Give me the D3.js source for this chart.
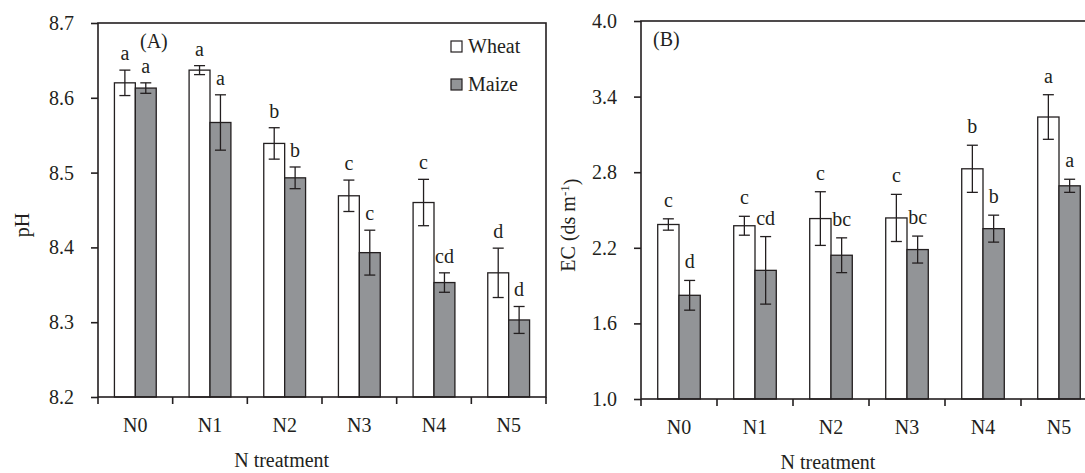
<!DOCTYPE html>
<html>
<head>
<meta charset="utf-8">
<script src="https://cdn.jsdelivr.net/npm/d3@7"></script>
<style>
  body { margin: 0; background: #fff; }
  svg text { font-family: "Liberation Serif", "DejaVu Serif", serif; fill: #231f20; }
</style>
</head>
<body>
<div id="content"></div>
<script>
'use strict';

var categories = ['N0', 'N1', 'N2', 'N3', 'N4', 'N5'];
var seriesNames = ['Wheat', 'Maize'];

var phWheat = [8.620, 8.637, 8.539, 8.469, 8.460, 8.366];
var phWheatErr = [0.017, 0.006, 0.021, 0.021, 0.031, 0.033];
var phMaize = [8.613, 8.567, 8.493, 8.393, 8.353, 8.303];
var phMaizeErr = [0.007, 0.037, 0.0145, 0.030, 0.013, 0.018];
var phWheatLetters = ['a', 'a', 'b', 'c', 'c', 'd'];
var phMaizeLetters = ['a', 'a', 'b', 'c', 'cd', 'd'];
var phTicks = [8.2, 8.3, 8.4, 8.5, 8.6, 8.7];

var ecWheat = [2.385, 2.375, 2.432, 2.437, 2.827, 3.238];
var ecWheatErr = [0.045, 0.075, 0.213, 0.187, 0.187, 0.177];
var ecMaize = [1.823, 2.021, 2.141, 2.186, 2.352, 2.692];
var ecMaizeErr = [0.118, 0.268, 0.138, 0.107, 0.107, 0.052];
var ecWheatLetters = ['c', 'c', 'c', 'c', 'b', 'a'];
var ecMaizeLetters = ['d', 'cd', 'bc', 'bc', 'b', 'a'];
var ecTicks = [1.0, 1.6, 2.2, 2.8, 3.4, 4.0];

var INK = '#231f20';
var FONT = '"Liberation Serif", "DejaVu Serif", serif';
var colors = { Wheat: '#ffffff', Maize: '#929497' };

var svg = d3.select('#content')
    .append('svg')
    .attr('width', 1085)
    .attr('height', 473)
    .attr('font-family', FONT);

function drawPanel(p) {
    var g = svg.append('g')
        .attr('transform', 'translate(' + p.left + ' ' + p.top + ')');

    var x = d3.scaleBand()
        .domain(categories)
        .range([0, p.width]);

    var xs = d3.scaleBand()
        .domain(seriesNames)
        .range([x.bandwidth() * 0.22, x.bandwidth() * 0.78]);

    var y = d3.scaleLinear()
        .domain([p.ticks[0], p.ticks[p.ticks.length - 1]])
        .range([p.height, 0]);

    var rows = [];
    categories.forEach(function (c, i) {
        rows.push({ cat: c, key: 'Wheat', v: p.wheat[i], e: p.wheatErr[i], l: p.wheatLetters[i] });
        rows.push({ cat: c, key: 'Maize', v: p.maize[i], e: p.maizeErr[i], l: p.maizeLetters[i] });
    });

    function cx(d) { return x(d.cat) + xs(d.key) + xs.bandwidth() / 2; }

    // bars
    g.selectAll('.bar')
        .data(rows)
        .enter()
        .append('rect')
        .attr('class', 'bar')
        .attr('x', function (d) { return x(d.cat) + xs(d.key); })
        .attr('width', xs.bandwidth())
        .attr('y', function (d) { return y(d.v); })
        .attr('height', function (d) { return p.height - y(d.v); })
        .style('fill', function (d) { return colors[d.key]; })
        .style('stroke', INK)
        .style('stroke-width', 1.3);

    // error bars
    var err = g.selectAll('.err')
        .data(rows)
        .enter()
        .append('g')
        .attr('class', 'err')
        .style('stroke', INK)
        .style('stroke-width', 1.3);

    err.append('line')
        .attr('x1', cx).attr('x2', cx)
        .attr('y1', function (d) { return y(d.v + d.e); })
        .attr('y2', function (d) { return y(d.v - d.e); });
    err.append('line')
        .attr('x1', function (d) { return cx(d) - 5.5; })
        .attr('x2', function (d) { return cx(d) + 5.5; })
        .attr('y1', function (d) { return y(d.v + d.e); })
        .attr('y2', function (d) { return y(d.v + d.e); });
    err.append('line')
        .attr('x1', function (d) { return cx(d) - 5.5; })
        .attr('x2', function (d) { return cx(d) + 5.5; })
        .attr('y1', function (d) { return y(d.v - d.e); })
        .attr('y2', function (d) { return y(d.v - d.e); });

    // significance letters
    g.selectAll('.letter')
        .data(rows)
        .enter()
        .append('text')
        .attr('class', 'letter')
        .attr('x', cx)
        .attr('y', function (d) { return y(d.v + d.e) - p.letterGap; })
        .style('text-anchor', 'middle')
        .style('font-size', '20px')
        .text(function (d) { return d.l; });

    // frame
    g.append('rect')
        .attr('width', p.width)
        .attr('height', p.height)
        .style('fill', 'none')
        .style('stroke', INK)
        .style('stroke-width', 1.6);

    // y axis
    var yAxis = g.append('g')
        .call(d3.axisLeft(y)
            .tickValues(p.ticks)
            .tickSize(7)
            .tickSizeOuter(0)
            .tickPadding(17)
            .tickFormat(d3.format('.1f')));
    yAxis.attr('font-family', FONT);
    yAxis.select('.domain').remove();
    yAxis.selectAll('line').style('stroke', INK).style('stroke-width', 1.6);
    yAxis.selectAll('text')
        .style('font-size', '20px')
        .style('fill', INK);

    // x axis: labels at centres, ticks at band edges
    var xAxis = g.append('g')
        .attr('transform', 'translate(0 ' + p.height + ')')
        .call(d3.axisBottom(x).tickSize(0).tickPadding(21));
    xAxis.attr('font-family', FONT);
    xAxis.select('.domain').remove();
    xAxis.selectAll('text')
        .style('font-size', '20px')
        .style('fill', INK);

    var edges = categories.map(function (c) { return x(c); }).concat([x.range()[1]]);
    g.selectAll('.xtick')
        .data(edges)
        .enter()
        .append('line')
        .attr('x1', function (d) { return d; })
        .attr('x2', function (d) { return d; })
        .attr('y1', p.height)
        .attr('y2', p.height + 7)
        .style('stroke', INK)
        .style('stroke-width', 1.6);

    // x title
    g.append('text')
        .attr('x', p.width * 0.41)
        .attr('y', p.height + 70)
        .style('text-anchor', 'middle')
        .style('font-size', '20px')
        .text('N treatment');

    // y title
    var yt = g.append('text')
        .attr('transform', 'translate(' + (-p.yTitleOffset) + ' ' + (p.height * 0.54) + ') rotate(-90)')
        .attr('dy', '0.35em')
        .style('text-anchor', 'middle')
        .style('font-size', '20px');
    p.yTitle(yt);

    // panel tag
    g.append('text')
        .attr('x', p.tagX)
        .attr('y', 25)
        .style('font-size', '20px')
        .text(p.tag);

    return { g: g, x: x, y: y };
}

var left = drawPanel({
    left: 98, top: 23, width: 448, height: 374,
    ticks: phTicks,
    wheat: phWheat, wheatErr: phWheatErr, wheatLetters: phWheatLetters,
    maize: phMaize, maizeErr: phMaizeErr, maizeLetters: phMaizeLetters,
    letterGap: 10,
    yTitleOffset: 76,
    yTitle: function (t) { t.text('pH'); },
    tag: '(A)', tagX: 42
});

drawPanel({
    left: 641, top: 21, width: 456, height: 378,
    ticks: ecTicks,
    wheat: ecWheat, wheatErr: ecWheatErr, wheatLetters: ecWheatLetters,
    maize: ecMaize, maizeErr: ecMaizeErr, maizeLetters: ecMaizeLetters,
    letterGap: 12,
    yTitleOffset: 73,
    yTitle: function (t) {
        t.append('tspan').text('EC (ds m');
        t.append('tspan').attr('dy', '-0.45em').style('font-size', '13px').text('-1');
        t.append('tspan').attr('dy', '0.45em').text(')');
    },
    tag: '(B)', tagX: 12
});

// legend inside panel A
var legend = left.g.append('g')
    .attr('transform', 'translate(353 18)');

var item = legend.selectAll('.item')
    .data(seriesNames)
    .enter()
    .append('g')
    .attr('class', 'item')
    .attr('transform', function (d, i) { return 'translate(0 ' + (i * 38) + ')'; });

item.append('rect')
    .attr('width', 11)
    .attr('height', 11)
    .style('fill', function (d) { return colors[d]; })
    .style('stroke', INK)
    .style('stroke-width', 1.2);

item.append('text')
    .attr('x', 17)
    .attr('y', 12)
    .style('font-size', '20px')
    .text(function (d) { return d; });
</script>
</body>
</html>
